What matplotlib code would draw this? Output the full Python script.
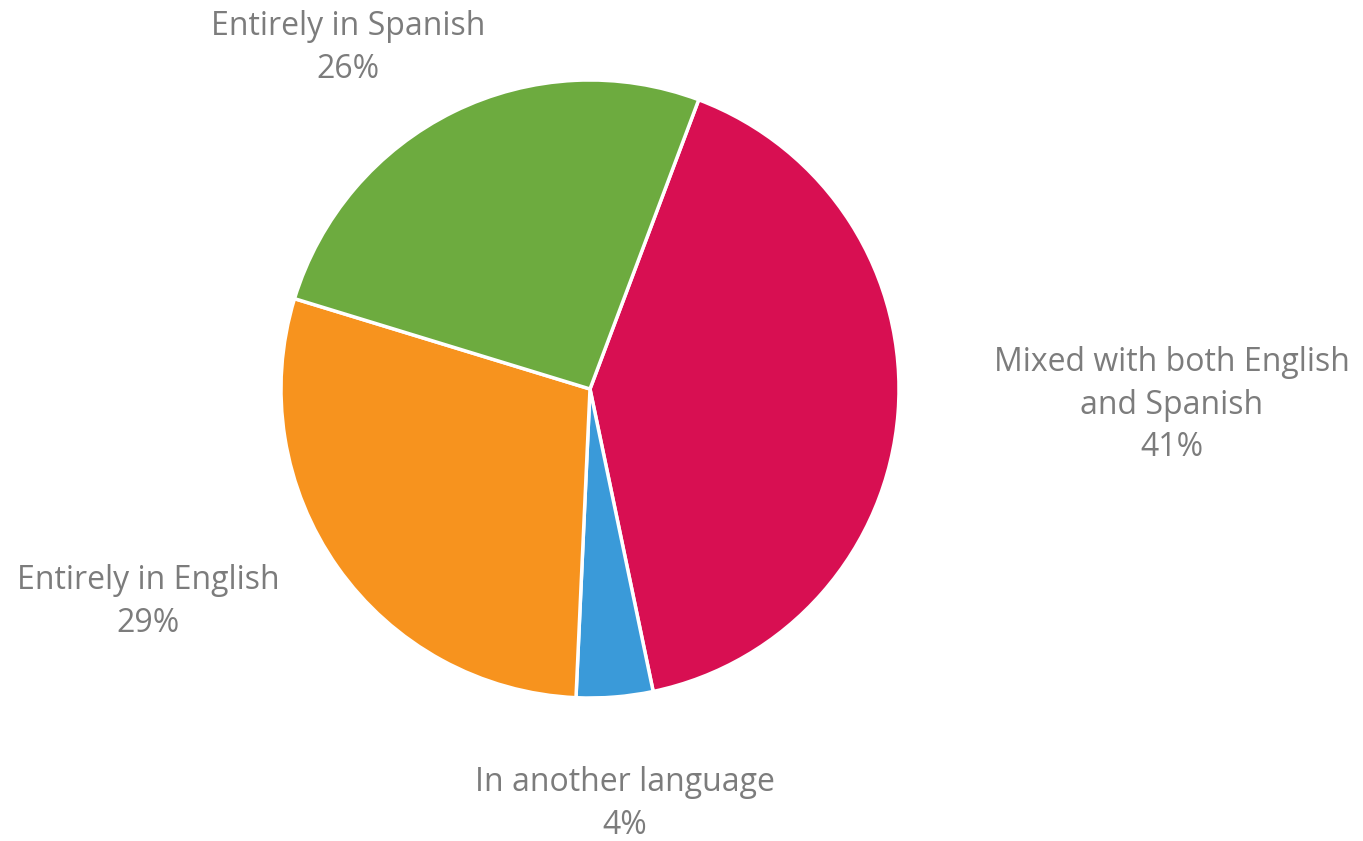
import matplotlib.pyplot as plt

# Language share data
labels = ["Mixed with both English\nand Spanish", "In another language",
          "Entirely in English", "Entirely in Spanish"]
values = [41, 4, 29, 26]
colors = ["#D80F52", "#3A9AD9", "#F7931E", "#6DAB3F"]

W, H = 1363, 841
fig = plt.figure(figsize=(W / 100, H / 100), dpi=100)
ax = fig.add_axes([0, 0, 1, 1])

ax.pie(values, colors=colors, center=(590, H - 389), radius=309,
       startangle=69.4, counterclock=False,
       wedgeprops=dict(edgecolor="white", linewidth=2.5))

# pie() resets the limits, so set the pixel frame afterwards
ax.set_xlim(0, W)
ax.set_ylim(0, H)
ax.set_aspect("equal")
ax.axis("off")

# label anchor points (pixel coords, measured from top)
label_pos = [(1172, 405), (625, 804), (148, 602), (348, 48)]
for lab, v, (x, y) in zip(labels, values, label_pos):
    ax.text(x, H - y, f"{lab}\n{v}%", ha="center", va="center",
            fontsize=23, color="#7c7c7c", family="Open Sans", linespacing=1.38)

fig.savefig("out.png", dpi=100)
